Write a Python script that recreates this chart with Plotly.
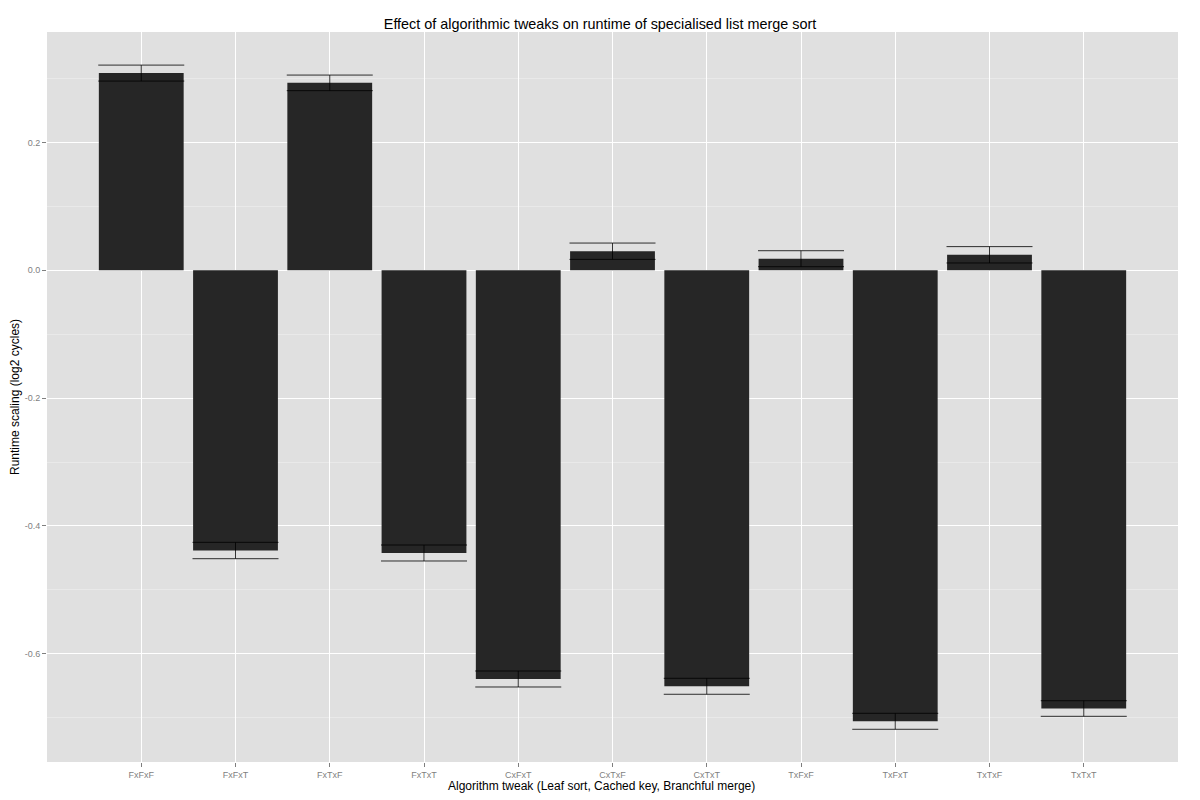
import plotly.graph_objects as go

categories = ["FxFxF", "FxFxT", "FxTxF", "FxTxT", "CxFxT", "CxTxF", "CxTxT",
              "TxFxF", "TxFxT", "TxTxF", "TxTxT"]
values = [0.3087, -0.4385, 0.2934, -0.4424, -0.6396, 0.0299, -0.6510,
          0.0182, -0.7058, 0.0243, -0.6858]
errors = [0.0125, 0.0128, 0.0122, 0.0125, 0.0125, 0.0128, 0.0125,
          0.0125, 0.0125, 0.0128, 0.0122]
y_ticks = [-0.6, -0.4, -0.2, 0.0, 0.2]
y_tick_labels = ["-0.6", "-0.4", "-0.2", "0.0", "0.2"]
minor_ticks = [-0.7, -0.5, -0.3, -0.1, 0.1, 0.3]

# page body has an 8px default margin, so the figure is sized 8px smaller
W, H = 1192, 792
ML, MR, MT, MB = 39, 22, 24, 38
plot_h = H - MT - MB
plot_w = W - ML - MR

fig = go.Figure()
fig.add_trace(go.Bar(
    x=categories, y=values, width=0.9,
    marker=dict(color="#262626", line=dict(width=0)),
    error_y=dict(type="data", array=errors, visible=True,
                 color="rgba(0,0,0,0.8)", thickness=1, width=43),
    showlegend=False,
))

fig.update_layout(
    width=W, height=H,
    margin=dict(l=ML, r=MR, t=MT, b=MB, autoexpand=False),
    paper_bgcolor="white", plot_bgcolor="#e0e0e0",
    font=dict(family="Liberation Sans, Arial, sans-serif", color="black"),
    title=dict(text="Effect of algorithmic tweaks on runtime of specialised list merge sort",
               x=592 / W, xanchor="center", y=1 - 16 / H, yanchor="middle",
               font=dict(size=14.4, color="black"), automargin=False),
    bargap=0.1,
    annotations=[
        dict(text="Algorithm tweak (Leaf sort, Cached key, Branchful merge)",
             xref="paper", yref="paper", x=0.5 - 11.5 / plot_w, y=-(778 - (H - MB)) / plot_h,
             xanchor="center", yanchor="middle", showarrow=False,
             font=dict(size=12, color="black")),
        dict(text="Runtime scaling (log2 cycles)", textangle=-90,
             xref="paper", yref="paper", x=-(ML - 7) / plot_w, y=0.5,
             xanchor="center", yanchor="middle", showarrow=False,
             font=dict(size=12, color="black")),
    ],
)
fig.update_xaxes(
    type="category", range=[-1, 11], automargin=False,
    showgrid=True, gridcolor="white", gridwidth=1.2,
    ticks="outside", ticklen=4, tickcolor="#7f7f7f",
    tickfont=dict(size=9, color="#7f7f7f"),
    zeroline=False, showline=False,
)
fig.update_yaxes(
    range=[-0.7695, 0.373], automargin=False,
    tickvals=y_ticks, ticktext=y_tick_labels,
    showgrid=True, gridcolor="white", gridwidth=1.2,
    minor=dict(tickvals=minor_ticks, showgrid=True, gridcolor="#e9e9e9", gridwidth=0.6, ticks=""),
    ticks="outside", ticklen=4, tickcolor="#7f7f7f",
    tickfont=dict(size=9, color="#7f7f7f"),
    zeroline=False, showline=False,
)

fig.write_html("out.html")
